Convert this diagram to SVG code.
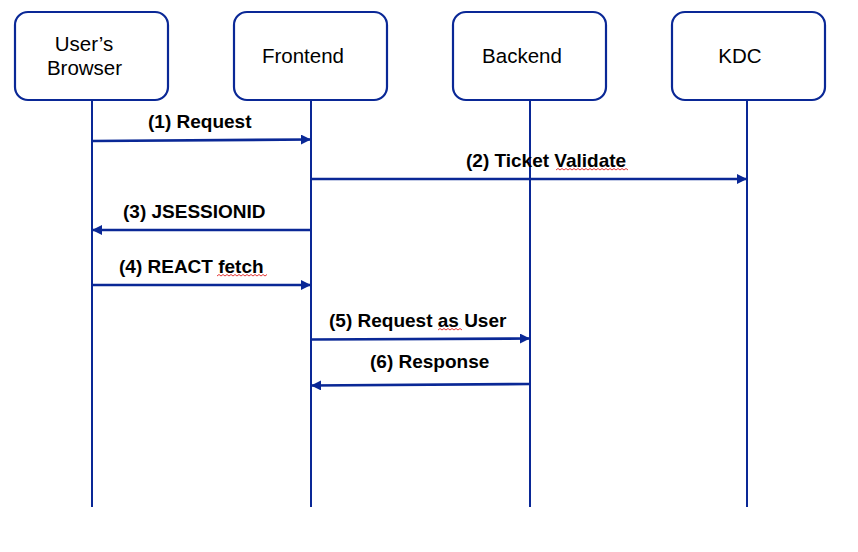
<svg xmlns="http://www.w3.org/2000/svg" width="858" height="552" viewBox="0 0 858 552">
<style>
.box{fill:#fff;stroke:#0a2896;stroke-width:2.2}
.life{stroke:#0a2896;stroke-width:2;fill:none}
.msg{stroke:#0a2896;stroke-width:2.6;fill:none}
.nt{font-family:"Liberation Sans",Arial,sans-serif;font-size:20.5px;fill:#000;text-anchor:middle}
.ml{font-family:"Liberation Sans",Arial,sans-serif;font-size:19px;font-weight:bold;fill:#000}
.sq{stroke:#e02020;stroke-width:0.9;fill:none}
</style>
<defs>
<marker id="ah" viewBox="0 0 10 10" refX="10" refY="5" markerWidth="10" markerHeight="10" markerUnits="userSpaceOnUse" orient="auto">
<path d="M0,0 L10,5 L0,10 Z" fill="#0a2896"/>
</marker>
</defs>
<g id="lifelines">
<line class="life" x1="92" y1="100" x2="92" y2="507"/>
<line class="life" x1="311" y1="100" x2="311" y2="507"/>
<line class="life" x1="530" y1="100" x2="530" y2="507"/>
<line class="life" x1="747" y1="100" x2="747" y2="507"/>
</g>
<g id="browser">
<rect class="box" x="15" y="12" width="153" height="88" rx="13"/>
<text class="nt" x="84" y="51">User’s</text>
<text class="nt" x="84.5" y="75">Browser</text>
</g>
<g id="frontend">
<rect class="box" x="234" y="12" width="153" height="88" rx="13"/>
<text class="nt" x="303" y="63">Frontend</text>
</g>
<g id="backend">
<rect class="box" x="453" y="12" width="153" height="88" rx="13"/>
<text class="nt" x="522" y="63">Backend</text>
</g>
<g id="kdc">
<rect class="box" x="672" y="12" width="153" height="88" rx="13"/>
<text class="nt" x="740" y="63">KDC</text>
</g>
<g id="connectors">
<line class="msg" x1="92" y1="141" x2="311" y2="139.5" marker-end="url(#ah)"/>
<text class="ml" x="148" y="128">(1) Request</text>
<line class="msg" x1="311" y1="179" x2="747" y2="179" marker-end="url(#ah)"/>
<text class="ml" x="466" y="167">(2) Ticket Validate</text>
<line class="msg" x1="311" y1="230" x2="92" y2="230" marker-end="url(#ah)"/>
<text class="ml" x="123" y="218">(3) JSESSIONID</text>
<line class="msg" x1="92" y1="285" x2="311" y2="285" marker-end="url(#ah)"/>
<text class="ml" x="119" y="273">(4) REACT fetch</text>
<line class="msg" x1="311" y1="339.5" x2="530" y2="338.5" marker-end="url(#ah)"/>
<text class="ml" x="329" y="327">(5) Request as User</text>
<line class="msg" x1="530" y1="384" x2="311" y2="385.5" marker-end="url(#ah)"/>
<text class="ml" x="370" y="368">(6) Response</text>
<path class="sq" d="M556,170 l2,-1.5 l2,1.5 l2,-1.5 l2,1.5 l2,-1.5 l2,1.5 l2,-1.5 l2,1.5 l2,-1.5 l2,1.5 l2,-1.5 l2,1.5 l2,-1.5 l2,1.5 l2,-1.5 l2,1.5 l2,-1.5 l2,1.5 l2,-1.5 l2,1.5 l2,-1.5 l2,1.5 l2,-1.5 l2,1.5 l2,-1.5 l2,1.5 l2,-1.5 l2,1.5 l2,-1.5 l2,1.5 l2,-1.5 l2,1.5 l2,-1.5 l2,1.5 l2,-1.5 l2,1.5"/>
<path class="sq" d="M217,276 l2,-1.5 l2,1.5 l2,-1.5 l2,1.5 l2,-1.5 l2,1.5 l2,-1.5 l2,1.5 l2,-1.5 l2,1.5 l2,-1.5 l2,1.5 l2,-1.5 l2,1.5 l2,-1.5 l2,1.5 l2,-1.5 l2,1.5 l2,-1.5 l2,1.5 l2,-1.5 l2,1.5 l2,-1.5 l2,1.5 l2,-1.5"/>
<path class="sq" d="M438,330 l2,-1.5 l2,1.5 l2,-1.5 l2,1.5 l2,-1.5 l2,1.5 l2,-1.5 l2,1.5 l2,-1.5 l2,1.5 l2,-1.5 l2,1.5"/>
</g>
</svg>
